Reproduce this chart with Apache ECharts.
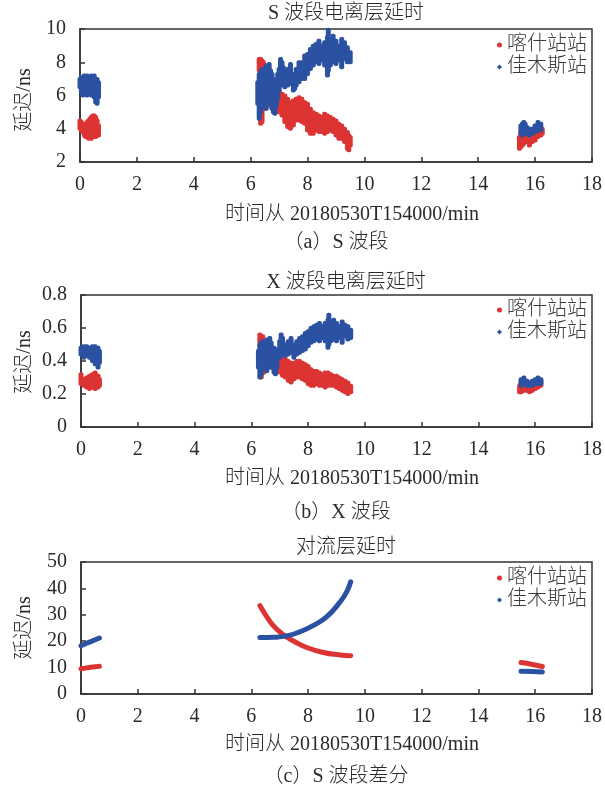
<!DOCTYPE html>
<html><head><meta charset="utf-8">
<script src="https://cdn.jsdelivr.net/npm/echarts@6/dist/echarts.min.js"></script>
<style>html,body{margin:0;padding:0;background:#fff}#c{width:605px;height:793px}</style>
</head><body><div id="c"></div>
<script>
// ---- Data: [time(min), low, high] bands of the dense scatter clouds ----
const sRed = [
 [0.00,4.0,4.5],[0.05,3.9,4.4],[0.10,3.8,4.2],[0.15,3.6,4.1],[0.20,3.5,4.3],[0.25,3.5,4.4],[0.30,3.4,4.5],
 [0.35,3.5,4.6],[0.40,3.4,4.7],[0.45,3.5,4.8],[0.50,3.6,4.8],[0.55,3.5,4.7],[0.60,3.6,4.5],[0.65,3.6,4.2],
 [6.30,7.5,8.2],[6.35,7.6,8.2],[6.40,7.4,8.1],[6.45,7.3,8.0],[6.50,7.0,7.8],
 [6.35,4.3,5.0],[6.40,4.4,5.6],[6.50,5.2,6.0],[6.60,5.4,6.1],[6.70,5.4,6.2],[6.80,5.3,6.0],[6.90,5.2,6.2],
 [7.00,5.0,6.3],[7.10,4.8,6.1],[7.20,4.4,6.0],[7.30,4.1,5.8],[7.40,4.0,5.6],[7.50,4.2,5.7],[7.60,4.5,5.8],
 [7.70,4.5,5.9],[7.80,4.4,5.8],[7.90,4.3,5.6],[8.00,3.9,5.5],[8.10,3.7,5.2],[8.20,3.7,5.0],[8.30,3.9,4.9],
 [8.40,3.8,4.8],[8.50,3.8,4.7],[8.60,3.7,4.9],[8.70,3.8,4.8],[8.80,3.9,4.7],[8.90,3.8,4.6],[9.00,3.6,4.5],
 [9.10,3.4,4.3],[9.20,3.4,4.2],[9.30,3.2,4.0],[9.40,2.8,3.8],[9.45,2.7,3.6],[9.50,3.0,3.5],
 [15.45,2.8,3.5],[15.50,2.9,3.8],[15.55,3.0,4.0],[15.60,3.1,4.2],[15.70,3.2,4.1],[15.80,3.0,4.0],
 [15.90,3.2,3.9],[16.00,3.3,4.0],[16.10,3.5,4.2],[16.20,3.6,4.1],[16.25,3.7,4.0]
];
const sBlue = [
 [0.00,6.5,7.0],[0.05,6.2,7.1],[0.10,6.0,7.0],[0.15,6.1,7.2],[0.20,6.3,7.1],[0.25,6.0,7.2],[0.30,6.2,7.0],
 [0.35,6.1,6.9],[0.40,6.0,7.2],[0.45,6.2,7.1],[0.50,5.9,7.2],[0.55,5.6,6.9],[0.60,5.5,7.0],[0.65,5.9,6.8],
 [6.25,5.5,6.8],[6.30,4.6,7.3],[6.35,5.0,7.4],[6.40,5.3,7.6],[6.45,5.5,7.2],[6.50,5.4,7.5],[6.55,5.2,7.8],
 [6.60,5.6,7.6],[6.65,5.8,7.9],[6.70,5.5,7.5],[6.75,5.2,7.3],[6.80,5.0,7.0],[6.85,4.9,6.6],[6.90,5.4,6.9],
 [6.95,5.8,7.3],[7.00,6.3,7.6],[7.05,6.6,8.2],[7.10,6.8,8.0],[7.15,6.7,7.7],[7.20,6.5,7.4],[7.30,6.6,7.6],
 [7.40,6.7,7.9],[7.50,6.3,7.3],[7.55,6.4,7.0],[7.60,6.6,7.6],[7.70,6.8,8.0],[7.80,7.0,8.0],[7.90,7.0,8.4],
 [8.00,7.3,8.5],[8.10,7.6,8.8],[8.20,7.8,9.0],[8.30,8.0,9.1],[8.40,7.9,9.3],[8.50,8.1,9.0],[8.60,7.8,9.2],
 [8.70,7.2,9.5],[8.73,7.5,9.95],[8.80,7.8,9.4],[8.90,8.0,9.6],[9.00,7.9,9.3],[9.10,8.1,9.0],[9.20,7.7,9.4],
 [9.30,8.2,9.2],[9.40,8.0,8.9],[9.50,8.0,8.6],
 [15.50,3.7,4.2],[15.55,3.6,4.3],[15.60,3.7,4.4],[15.65,3.8,4.3],[15.70,3.7,4.1],[15.80,3.6,4.0],
 [15.85,3.7,3.9],[15.90,3.7,4.0],[16.00,3.8,4.2],[16.10,3.9,4.4],[16.20,3.9,4.3]
];
const xRed = [
 [0.00,0.26,0.32],[0.10,0.25,0.29],[0.20,0.24,0.30],[0.30,0.23,0.31],[0.40,0.24,0.32],[0.50,0.23,0.33],
 [0.60,0.24,0.31],[0.65,0.25,0.29],
 [6.30,0.50,0.56],[6.40,0.49,0.55],
 [6.35,0.30,0.36],[6.45,0.33,0.40],[6.50,0.35,0.41],[6.60,0.36,0.42],[6.70,0.36,0.43],[6.80,0.35,0.42],
 [6.90,0.34,0.43],[7.00,0.33,0.44],[7.10,0.31,0.42],[7.20,0.30,0.41],[7.30,0.28,0.40],[7.40,0.27,0.39],
 [7.50,0.29,0.39],[7.60,0.30,0.40],[7.70,0.30,0.40],[7.80,0.29,0.39],[7.90,0.28,0.38],[8.00,0.26,0.37],
 [8.10,0.25,0.35],[8.20,0.25,0.34],[8.30,0.26,0.34],[8.40,0.25,0.33],[8.50,0.25,0.32],[8.60,0.24,0.33],
 [8.70,0.25,0.33],[8.80,0.25,0.32],[8.90,0.25,0.31],[9.00,0.24,0.31],[9.10,0.23,0.30],[9.20,0.22,0.29],
 [9.30,0.21,0.28],[9.40,0.20,0.27],[9.50,0.21,0.25],
 [15.45,0.21,0.25],[15.50,0.21,0.27],[15.60,0.22,0.29],[15.70,0.22,0.28],[15.80,0.21,0.27],
 [15.90,0.22,0.27],[16.00,0.23,0.28],[16.10,0.24,0.29],[16.20,0.25,0.28]
];
const xBlue = [
 [0.00,0.44,0.48],[0.10,0.42,0.49],[0.20,0.43,0.49],[0.30,0.42,0.48],[0.40,0.40,0.49],[0.50,0.38,0.49],
 [0.60,0.36,0.48],[0.65,0.39,0.46],
 [6.25,0.36,0.46],[6.30,0.30,0.50],[6.35,0.32,0.51],[6.40,0.35,0.52],[6.50,0.36,0.50],[6.55,0.34,0.53],
 [6.60,0.37,0.52],[6.65,0.38,0.54],[6.70,0.36,0.51],[6.80,0.33,0.48],[6.85,0.32,0.45],[6.90,0.36,0.47],
 [7.00,0.42,0.52],[7.05,0.44,0.56],[7.10,0.45,0.54],[7.20,0.43,0.50],[7.30,0.44,0.52],[7.40,0.45,0.54],
 [7.50,0.42,0.50],[7.60,0.44,0.52],[7.70,0.45,0.54],[7.80,0.46,0.55],[7.90,0.47,0.57],[8.00,0.49,0.58],
 [8.10,0.51,0.60],[8.20,0.52,0.61],[8.30,0.53,0.62],[8.40,0.52,0.63],[8.50,0.54,0.61],[8.60,0.52,0.63],
 [8.70,0.48,0.65],[8.73,0.50,0.68],[8.80,0.52,0.64],[8.90,0.53,0.65],[9.00,0.52,0.63],[9.10,0.54,0.61],
 [9.20,0.51,0.64],[9.30,0.55,0.62],[9.40,0.53,0.61],[9.50,0.54,0.59],
 [15.50,0.25,0.29],[15.60,0.26,0.30],[15.70,0.25,0.28],[15.80,0.25,0.27],[15.90,0.25,0.28],
 [16.00,0.26,0.29],[16.10,0.26,0.30],[16.20,0.26,0.29]
];
// tropospheric delay curves [time, value]
const tRedA = [[0,9.6],[0.2,9.9],[0.4,10.2],[0.65,10.5]];
const tRedB = [[6.3,33.5],[6.5,30.0],[6.78,25.8],[7.13,22.4],[7.5,20.0],[7.95,17.6],[8.54,15.7],[9.12,14.8],[9.5,14.5]];
const tRedC = [[15.5,11.9],[15.9,11.2],[16.25,10.4]];
const tBlueA = [[0,18.3],[0.2,19.2],[0.4,20.1],[0.65,21.2]];
const tBlueB = [[6.3,21.4],[6.78,21.5],[7.25,22.0],[7.72,23.6],[8.19,26.0],[8.66,29.3],[9.12,34.8],[9.35,38.5],[9.5,42.5]];
const tBlueC = [[15.5,8.6],[15.9,8.5],[16.25,8.3]];

const names = ['喀什站站','佳木斯站'];
const titles = ['S 波段电离层延时','X 波段电离层延时','对流层延时'];
const captions = ['（a）S 波段','（b）X 波段','（c）S 波段差分'];
const xName = '时间从 20180530T154000/min';
const yName = '延迟/ns';
const yRanges = [[2,10,2],[0,0.8,0.2],[0,50,10]];

const RED = '#dc3333', BLUE = '#2b52a2';
const FONT = "'Liberation Serif','Noto Sans CJK SC',serif";
const TXT = '#2a2a2a';

const grids = [
  {left:80, top:29, width:513, height:133},
  {left:81, top:295, width:513, height:132},
  {left:81, top:562, width:513, height:132}
];

function bandSeries(name, data, color, idx){
  return {
    type:'custom', name, xAxisIndex:idx, yAxisIndex:idx, data,
    itemStyle:{color},
    encode:{x:0, y:[1,2]},
    renderItem(params, api){
      const t = api.value(0), lo = api.value(1), hi = api.value(2);
      const p1 = api.coord([t, hi]), p2 = api.coord([t, lo]);
      const w = 5;
      return {type:'rect', shape:{x:p1[0]-w/2, y:p1[1]-2, width:w, height:(p2[1]-p1[1])+4, r:2},
              style:{fill:color}};
    }
  };
}
function lineSeries(name, data, color, idx){
  return {type:'line', name, xAxisIndex:idx, yAxisIndex:idx, data, smooth:true, showSymbol:false,
    symbol:'none', itemStyle:{color}, lineStyle:{color, width:5, cap:'round'}};
}

const axisLine = {show:true, onZero:false, lineStyle:{color:'#333', width:1.5}};
const axisTick = {show:true, inside:true, length:5, lineStyle:{color:'#333', width:1.5}};
const xAxes = grids.map((g,i)=>({gridIndex:i, type:'value', min:0, max:18, interval:2,
  axisLine, axisTick, splitLine:{show:false},
  axisLabel:{fontSize:20, fontFamily:FONT, color:TXT, margin:13}}));
const yAxes = grids.map((g,i)=>({gridIndex:i, type:'value', min:yRanges[i][0], max:yRanges[i][1], interval:yRanges[i][2],
  axisLine, axisTick, splitLine:{show:false},
  axisLabel:{fontSize:20, fontFamily:FONT, color:TXT, margin:14}}));

const legendTops = [35, 300, 568];
const legends = legendTops.map((top)=>({
  orient:'vertical', left:497, top, padding:0, itemGap:2, itemWidth:5, itemHeight:5,
  textStyle:{fontSize:20, fontFamily:FONT, color:'#3a3a3a', lineHeight:20, fontWeight:300},
  data:[{name:names[0], icon:'circle'},{name:names[1], icon:'diamond'}]
}));

const texts = [];
const titleY = [14, 283, 548], xNameY = [215, 479, 745], capY = [243, 513, 777], yNameY = [100, 362, 628];
const F = '300 20px '+FONT;
for (let i=0;i<3;i++){
  texts.push({type:'text', x:346, y:titleY[i], style:{text:titles[i], font:F, fill:TXT, textAlign:'center', textVerticalAlign:'middle'}});
  texts.push({type:'text', x:352, y:xNameY[i], style:{text:xName, font:F, fill:TXT, textAlign:'center', textVerticalAlign:'middle'}});
  texts.push({type:'text', x:336, y:capY[i], style:{text:captions[i], font:F, fill:TXT, textAlign:'center', textVerticalAlign:'middle'}});
  texts.push({type:'text', x:25, y:yNameY[i], rotation:Math.PI/2, style:{text:yName, font:F, fill:TXT, textAlign:'center', textVerticalAlign:'middle'}});
}

const chart = echarts.init(document.getElementById('c'), null, {renderer:'canvas'});
chart.setOption({
  animation:false,
  backgroundColor:'#fff',
  grid: grids.map(g=>Object.assign({show:true, borderColor:'#333', borderWidth:1.5}, g)),
  xAxis:xAxes, yAxis:yAxes, legend:legends,
  graphic:texts,
  series:[
    bandSeries(names[0], sRed, RED, 0), bandSeries(names[1], sBlue, BLUE, 0),
    bandSeries(names[0], xRed, RED, 1), bandSeries(names[1], xBlue, BLUE, 1),
    lineSeries(names[0], tRedA, RED, 2), lineSeries(names[0], tRedB, RED, 2), lineSeries(names[0], tRedC, RED, 2),
    lineSeries(names[1], tBlueA, BLUE, 2), lineSeries(names[1], tBlueB, BLUE, 2), lineSeries(names[1], tBlueC, BLUE, 2)
  ]
});
</script></body></html>
